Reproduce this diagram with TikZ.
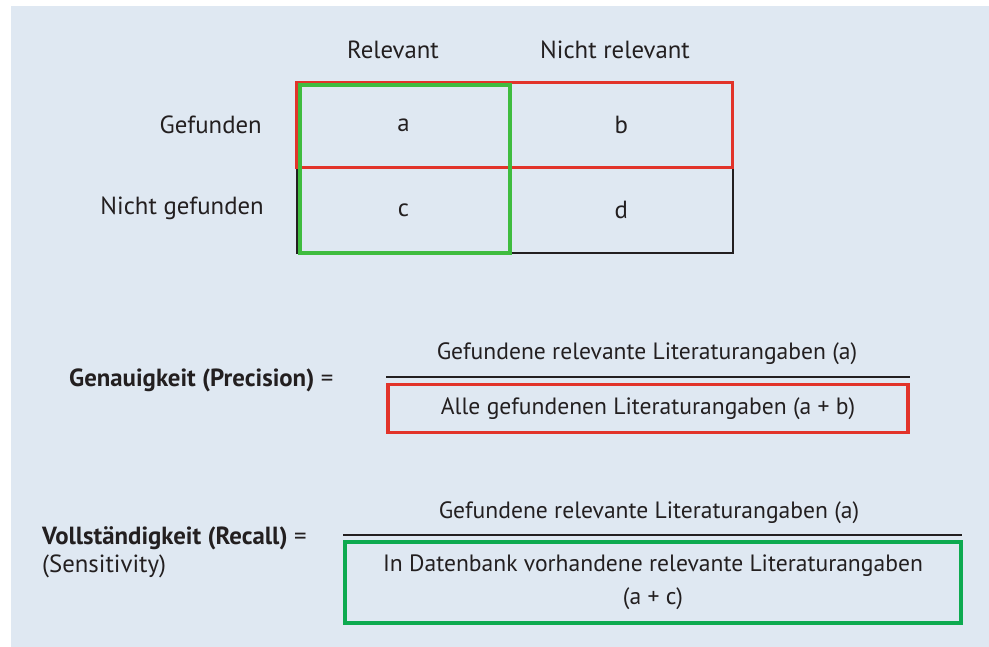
\documentclass[tikz,border=0pt]{standalone}
\usepackage{fontspec}
\setmainfont{PT Sans}
\usepackage{tikz}
\usetikzlibrary{positioning}
\definecolor{bgblue}{HTML}{DFE8F2}
\definecolor{ink}{HTML}{231F20}
\definecolor{boxred}{HTML}{E2332A}
\definecolor{tabgreen}{HTML}{3FBC3F}
\definecolor{boxgreen}{HTML}{0DAA50}
\newcommand{\tabsize}{\fontsize{24.8}{30}\selectfont}
\newcommand{\txtsize}{\fontsize{23.6}{33}\selectfont}
\newcommand{\headsize}{\fontsize{24.8}{30}\selectfont}
\newcommand{\redw}{3.4pt}
\newcommand{\greenw}{3.8pt}

\begin{document}
\begin{tikzpicture}[x=1pt, y=-1pt,
    txt/.style={font=\txtsize, text=ink, inner sep=0pt},
    tab/.style={txt, font=\tabsize},
    head/.style={txt, font=\headsize, anchor=west},
    cell/.style={tab, minimum height=85pt},
    fracline/.style={line width=1.4pt, ink}]
    \useasboundingbox (0, 0) rectangle (989, 647);
    \fill[bgblue] (11, 6) rectangle (989, 647);

    % table cells
    \node [cell, minimum width=213pt] (a) at (403.5, 125) {a};
    \node [cell, minimum width=222pt, right=0pt of a] (b) {b};
    \node [cell, minimum width=213pt, below=0pt of a] (c) {c};
    \node [cell, minimum width=222pt, right=0pt of c] (d) {d};

    % table heads
    \node [tab] (rel) at (393, 50) {Relevant};
    \node [tab] (nrel) at (615, 50) {Nicht relevant};
    \node [tab, anchor=east] (gef) at (262, 125) {Gefunden};
    \node [tab, anchor=east] (ngef) at (264, 208) {Nicht gefunden};

    % table edges
    \draw[line width=1.8pt, ink] (a.north west) rectangle (d.south east);
    \draw[line width=1.8pt, ink] (a.south west) -- (b.south east);
    \draw[line width=1.8pt, ink] (a.north east) -- (c.south east);
    \draw[line width=\redw, boxred] (a.north west) rectangle (b.south east);
    \draw[line width=\greenw, tabgreen] ([shift={(3, 3)}]a.north west) rectangle (c.south east);

    % precision
    \node [head] (prec) at (69, 380) {\textbf{Genauigkeit (Precision)} =};
    \node [txt] (pnum) at (647, 354) {Gefundene relevante Literaturangaben (a)};
    \coordinate (pl) at (386, 377);
    \coordinate (pr) at (910, 377);
    \draw[fracline] (pl) -- (pr);
    \node [txt, draw=boxred, line width=\redw, minimum width=520pt, minimum height=48pt] (pden) at (648, 408.5) {Alle gefundenen Literaturangaben (a + b)};

    % recall
    \node [head] (rec) at (42, 538) {\textbf{Vollständigkeit (Recall)} =};
    \node [head] (sens) at (42, 566) {(Sensitivity)};
    \node [txt] (rnum) at (649, 513) {Gefundene relevante Literaturangaben (a)};
    \coordinate (rl) at (343, 535);
    \coordinate (rr) at (962, 535);
    \draw[fracline] (rl) -- (rr);
    \node [txt, draw=boxgreen, line width=\greenw, minimum width=616pt, minimum height=81pt, align=center] (rden) at (653, 582.5) {In Datenbank vorhandene relevante Literaturangaben\\(a + c)};
\end{tikzpicture}
\end{document}
